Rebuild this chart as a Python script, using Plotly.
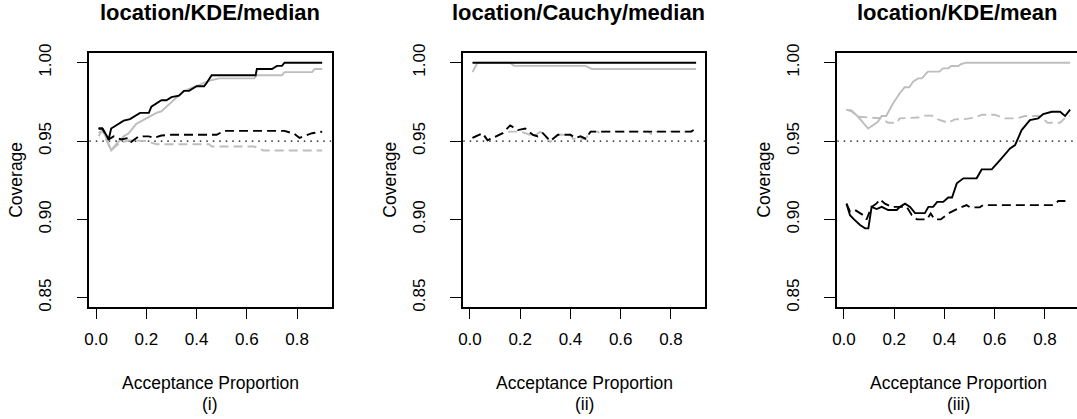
import plotly.graph_objects as go

# ---------------- data ----------------
# Panel (i): location/KDE/median
p1_black_solid_x = [0.01, 0.025, 0.04, 0.05, 0.06, 0.08, 0.11, 0.135, 0.175, 0.21, 0.22, 0.26, 0.28, 0.30, 0.33, 0.35, 0.37, 0.40, 0.43, 0.44, 0.46, 0.635, 0.64, 0.70, 0.72, 0.74, 0.75, 0.90]
p1_black_solid_y = [0.958, 0.958, 0.954, 0.951, 0.958, 0.960, 0.963, 0.964, 0.968, 0.968, 0.972, 0.976, 0.976, 0.978, 0.979, 0.982, 0.982, 0.985, 0.985, 0.987, 0.992, 0.992, 0.996, 0.996, 0.998, 0.998, 1.0, 1.0]
p1_grey_solid_x = [0.01, 0.025, 0.04, 0.06, 0.08, 0.11, 0.13, 0.16, 0.20, 0.24, 0.26, 0.31, 0.35, 0.40, 0.45, 0.49, 0.63, 0.64, 0.74, 0.75, 0.86, 0.87, 0.90]
p1_grey_solid_y = [0.953, 0.957, 0.952, 0.944, 0.948, 0.953, 0.955, 0.961, 0.9645, 0.968, 0.969, 0.976, 0.982, 0.985, 0.9885, 0.990, 0.990, 0.992, 0.992, 0.994, 0.994, 0.996, 0.996]
p1_black_dash_x = [0.01, 0.025, 0.05, 0.07, 0.10, 0.13, 0.14, 0.17, 0.21, 0.23, 0.26, 0.30, 0.48, 0.51, 0.75, 0.79, 0.81, 0.84, 0.86, 0.90]
p1_black_dash_y = [0.958, 0.958, 0.951, 0.953, 0.951, 0.952, 0.9495, 0.953, 0.953, 0.952, 0.9535, 0.954, 0.954, 0.9565, 0.9565, 0.9545, 0.952, 0.954, 0.955, 0.956]
p1_grey_dash_x = [0.01, 0.025, 0.04, 0.06, 0.08, 0.10, 0.13, 0.20, 0.24, 0.45, 0.46, 0.63, 0.665, 0.90]
p1_grey_dash_y = [0.955, 0.957, 0.951, 0.944, 0.947, 0.949, 0.9505, 0.950, 0.948, 0.948, 0.9465, 0.9465, 0.944, 0.944]

# Panel (ii): location/Cauchy/median
p2_black_solid_x = [0.01, 0.90]
p2_black_solid_y = [1.0, 1.0]
p2_grey_solid_x = [0.01, 0.03, 0.16, 0.175, 0.46, 0.485, 0.90]
p2_grey_solid_y = [0.994, 1.0, 1.0, 0.998, 0.998, 0.996, 0.996]
p2_black_dash_x = [0.01, 0.05, 0.07, 0.10, 0.13, 0.16, 0.19, 0.22, 0.25, 0.27, 0.29, 0.32, 0.35, 0.40, 0.42, 0.44, 0.46, 0.48, 0.88, 0.90]
p2_black_dash_y = [0.952, 0.955, 0.9505, 0.953, 0.955, 0.960, 0.957, 0.958, 0.954, 0.953, 0.955, 0.950, 0.954, 0.954, 0.952, 0.953, 0.9515, 0.956, 0.956, 0.958]
p2_grey_dash_x = [0.01, 0.05, 0.07, 0.10, 0.13, 0.16, 0.20, 0.23, 0.255, 0.28, 0.32, 0.35, 0.40, 0.41, 0.46, 0.48, 0.51, 0.52, 0.53, 0.71, 0.725, 0.74, 0.90]
p2_grey_dash_y = [0.952, 0.955, 0.9505, 0.953, 0.955, 0.956, 0.956, 0.9545, 0.953, 0.956, 0.9495, 0.954, 0.954, 0.9515, 0.9515, 0.956, 0.956, 0.954, 0.956, 0.956, 0.954, 0.956, 0.956]

# Panel (iii): location/KDE/mean
p3_black_solid_x = [0.01, 0.024, 0.04, 0.064, 0.084, 0.097, 0.11, 0.13, 0.15, 0.176, 0.21, 0.223, 0.243, 0.263, 0.283, 0.322, 0.336, 0.355, 0.371, 0.395, 0.415, 0.43, 0.449, 0.475, 0.528, 0.548, 0.588, 0.608, 0.621, 0.661, 0.681, 0.707, 0.74, 0.773, 0.793, 0.827, 0.86, 0.88, 0.90]
p3_black_solid_y = [0.910, 0.9027, 0.900, 0.8964, 0.8943, 0.8943, 0.908, 0.9066, 0.908, 0.906, 0.906, 0.908, 0.910, 0.908, 0.904, 0.904, 0.908, 0.908, 0.9112, 0.9112, 0.914, 0.914, 0.923, 0.9262, 0.9262, 0.9319, 0.9319, 0.9353, 0.9379, 0.9453, 0.9474, 0.957, 0.9634, 0.9645, 0.9672, 0.9687, 0.9687, 0.966, 0.970]
p3_grey_solid_x = [0.01, 0.03, 0.056, 0.096, 0.135, 0.15, 0.168, 0.195, 0.222, 0.241, 0.26, 0.275, 0.295, 0.31, 0.334, 0.38, 0.394, 0.415, 0.427, 0.455, 0.467, 0.487, 0.90]
p3_grey_solid_y = [0.970, 0.9695, 0.9655, 0.958, 0.9623, 0.966, 0.966, 0.974, 0.9805, 0.9843, 0.9843, 0.9879, 0.990, 0.990, 0.9943, 0.9943, 0.9964, 0.9964, 0.9979, 0.9979, 0.9992, 1.0, 1.0]
p3_black_dash_x = [0.01, 0.024, 0.044, 0.077, 0.09, 0.11, 0.13, 0.143, 0.163, 0.19, 0.25, 0.27, 0.29, 0.33, 0.345, 0.36, 0.385, 0.415, 0.455, 0.488, 0.502, 0.54, 0.554, 0.833, 0.853, 0.90]
p3_black_dash_y = [0.910, 0.905, 0.906, 0.9027, 0.900, 0.908, 0.9102, 0.9128, 0.910, 0.908, 0.908, 0.9027, 0.900, 0.900, 0.9038, 0.900, 0.900, 0.9038, 0.907, 0.9091, 0.9077, 0.9077, 0.9091, 0.9091, 0.9117, 0.9117]
p3_grey_dash_x = [0.01, 0.03, 0.056, 0.12, 0.15, 0.175, 0.21, 0.222, 0.295, 0.32, 0.35, 0.374, 0.414, 0.441, 0.48, 0.52, 0.55, 0.60, 0.64, 0.69, 0.72, 0.78, 0.81, 0.86, 0.885, 0.90]
p3_grey_dash_y = [0.970, 0.969, 0.9655, 0.965, 0.9645, 0.9617, 0.9617, 0.9645, 0.965, 0.9662, 0.9662, 0.9638, 0.9617, 0.9638, 0.964, 0.965, 0.9668, 0.9668, 0.9645, 0.9645, 0.966, 0.966, 0.9617, 0.9617, 0.9655, 0.966]

panel_titles = ["location/KDE/median", "location/Cauchy/median", "location/KDE/mean"]
panel_tags = ["(i)", "(ii)", "(iii)"]
x_title = "Acceptance Proportion"
y_title = "Coverage"
x_ticks = [0.0, 0.2, 0.4, 0.6, 0.8]
x_ticklabels = ["0.0", "0.2", "0.4", "0.6", "0.8"]
y_ticks = [0.85, 0.90, 0.95, 1.00]
y_ticklabels = ["0.85", "0.90", "0.95", "1.00"]
nominal = 0.95

panels = [
    (p1_black_solid_x, p1_black_solid_y, p1_grey_solid_x, p1_grey_solid_y,
     p1_black_dash_x, p1_black_dash_y, p1_grey_dash_x, p1_grey_dash_y),
    (p2_black_solid_x, p2_black_solid_y, p2_grey_solid_x, p2_grey_solid_y,
     p2_black_dash_x, p2_black_dash_y, p2_grey_dash_x, p2_grey_dash_y),
    (p3_black_solid_x, p3_black_solid_y, p3_grey_solid_x, p3_grey_solid_y,
     p3_black_dash_x, p3_black_dash_y, p3_grey_dash_x, p3_grey_dash_y),
]

# ---------------- layout geometry ----------------
W, H = 1077, 419
FONT = "Liberation Sans, Arial, Helvetica, sans-serif"
GREY = "#BEBEBE"
BLACK = "#000000"
DASH = "9px,5px"
box_left_px = [89.3, 463.2, 837.2]
box_right_px = [331.5, 705.4, 1077.0]
x_ranges = [[-0.027, 0.937], [-0.027, 0.937], [-0.027, 0.9274]]
y_range = [0.8439, 1.006]
box_top_px, box_bot_px = 53.3, 307.3
title_cx = [210, 578.5, 957]
xlab_cx = [210, 584, 958]

fig = go.Figure()
for i, (bsx, bsy, gsx, gsy, bdx, bdy, gdx, gdy) in enumerate(panels):
    xa = "x" if i == 0 else f"x{i+1}"
    ya = "y" if i == 0 else f"y{i+1}"
    fig.add_trace(go.Scatter(x=[x_ranges[i][0], x_ranges[i][1]], y=[nominal, nominal], mode="lines",
                             line=dict(color=BLACK, width=1.3, dash="1.5px,5px"),
                             xaxis=xa, yaxis=ya, showlegend=False, hoverinfo="skip"))
    fig.add_trace(go.Scatter(x=gdx, y=gdy, mode="lines", line=dict(color=GREY, width=1.9, dash=DASH),
                             xaxis=xa, yaxis=ya, showlegend=False))
    fig.add_trace(go.Scatter(x=gsx, y=gsy, mode="lines", line=dict(color=GREY, width=1.9),
                             xaxis=xa, yaxis=ya, showlegend=False))
    fig.add_trace(go.Scatter(x=bdx, y=bdy, mode="lines", line=dict(color=BLACK, width=1.9, dash=DASH),
                             xaxis=xa, yaxis=ya, showlegend=False))
    fig.add_trace(go.Scatter(x=bsx, y=bsy, mode="lines", line=dict(color=BLACK, width=1.9),
                             xaxis=xa, yaxis=ya, showlegend=False))

layout = dict(
    width=W, height=H, margin=dict(l=0, r=0, t=0, b=0, pad=0), autosize=False,
    paper_bgcolor="white", plot_bgcolor="white",
    font=dict(family=FONT, color="black", size=17),
    showlegend=False,
)
ydom = [1 - box_bot_px / H, 1 - box_top_px / H]
annotations = []
for i in range(3):
    sfx = "" if i == 0 else str(i + 1)
    layout["xaxis" + sfx] = dict(
        domain=[box_left_px[i] / W, box_right_px[i] / W], range=x_ranges[i],
        anchor="y" + sfx, tickmode="array", tickvals=x_ticks, ticktext=x_ticklabels,
        ticks="outside", ticklen=10, tickwidth=1.2, tickcolor="black",
        showline=True, mirror=True, linecolor="black", linewidth=1.5,
        showgrid=False, zeroline=False, tickfont=dict(size=17, family=FONT),
        ticklabelstandoff=6, automargin=False,
    )
    layout["yaxis" + sfx] = dict(
        domain=ydom, range=y_range, anchor="x" + sfx,
        tickmode="array", tickvals=y_ticks, ticktext=y_ticklabels, tickangle=-90,
        ticks="outside", ticklen=11, tickwidth=1.2, tickcolor="black",
        showline=True, mirror=(i < 2), linecolor="black", linewidth=1.5,
        showgrid=False, zeroline=False, tickfont=dict(size=17, family=FONT),
        ticklabelstandoff=19, automargin=False,
    )
    annotations.append(dict(text="<b>" + panel_titles[i] + "</b>", xref="paper", yref="paper",
                            x=title_cx[i] / W, y=1 - 13 / H, xanchor="center", yanchor="middle",
                            showarrow=False, font=dict(size=22, family=FONT)))
    annotations.append(dict(text=x_title, xref="paper", yref="paper",
                            x=xlab_cx[i] / W, y=1 - 383 / H, xanchor="center", yanchor="middle",
                            showarrow=False, font=dict(size=17.5, family=FONT)))
    annotations.append(dict(text=panel_tags[i], xref="paper", yref="paper",
                            x=xlab_cx[i] / W, y=1 - 404 / H, xanchor="center", yanchor="middle",
                            showarrow=False, font=dict(size=17.5, family=FONT)))
    annotations.append(dict(text=y_title, xref="paper", yref="paper", textangle=-90,
                            x=(box_left_px[i] - 73.5) / W, y=1 - 180 / H, xanchor="center", yanchor="middle",
                            showarrow=False, font=dict(size=17.5, family=FONT)))
layout["annotations"] = annotations
fig.update_layout(**layout)
fig.write_html("out.html", config={"displayModeBar": False},
               post_script="document.body.style.margin='0';document.body.style.padding='0';document.body.style.overflow='hidden';")
